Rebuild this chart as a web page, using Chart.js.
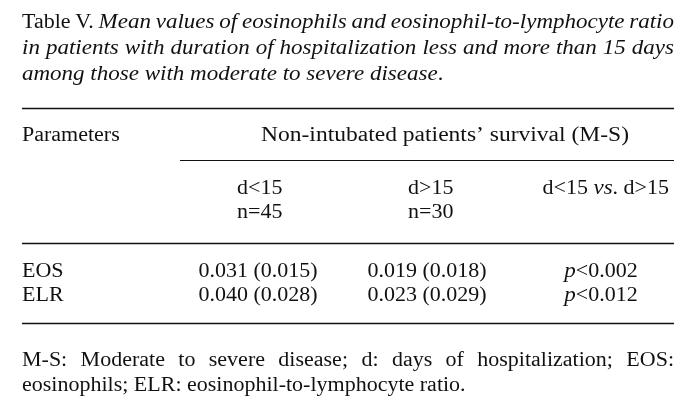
<!DOCTYPE html>
<html>
<head>
<meta charset="utf-8">
<script src="https://cdn.jsdelivr.net/npm/chart.js@4.4.1/dist/chart.umd.min.js"></script>
<style>
  html, body { margin: 0; padding: 0; background: #fff; }
  canvas { display: block; }
</style>
</head>
<body>
<canvas id="table-v" width="696" height="409"></canvas>
<script>
// table data
const parameters = ['EOS', 'ELR'];
const groupLabels = ['d<15', 'd>15'];
const groupSizes = [45, 30];
const meanShort = [0.031, 0.040];
const sdShort = [0.015, 0.028];
const meanLong = [0.019, 0.023];
const sdLong = [0.018, 0.029];
const pValues = ['0.002', '0.012'];

const titleLines = [
  [['Table V. ', false], ['Mean values of eosinophils and eosinophil-to-lymphocyte ratio', true]],
  [['in patients with duration of hospitalization less and more than 15 days', true]],
  [['among those with moderate to severe disease', true], ['.', false]]
];
const footLines = [
  [['M-S: Moderate to severe disease; d: days of hospitalization; EOS:', false]],
  [['eosinophils; ELR: eosinophil-to-lymphocyte ratio.', false]]
];

// layout (pixels on the hidden linear scales)
const FONT = '"Liberation Serif", "Times New Roman", serif';
const SIZE = 20;
const STRETCH = 1.1;
const STRETCH_IT = 1.15;
const LEFT = 22, RIGHT = 674;

function font(italic) {
  return (italic ? 'italic ' : '') + SIZE + 'px ' + FONT;
}

function runWidth(ctx, runs, k) {
  let w = 0;
  runs.forEach(([t, it]) => { ctx.font = font(it); w += ctx.measureText(t).width * (it ? STRETCH_IT : STRETCH) * (k || 1); });
  return w;
}

function drawRuns(ctx, runs, x, y, align, fitWidth) {
  let k = 1;
  if (fitWidth) k = fitWidth / runWidth(ctx, runs);
  const w = runWidth(ctx, runs, k);
  let cx = align === 'center' ? x - w / 2 : align === 'right' ? x - w : x;
  runs.forEach(([t, it]) => {
    const s = (it ? STRETCH_IT : STRETCH) * k;
    ctx.font = font(it);
    ctx.save();
    ctx.translate(cx, y);
    ctx.scale(s, 1);
    ctx.fillText(t, 0, 0);
    ctx.restore();
    cx += ctx.measureText(t).width * s;
  });
}

// justified line: split runs into words and spread the slack
function drawJustified(ctx, runs, x0, x1, y) {
  const words = [];
  let joinNext = false;
  runs.forEach(([t, it]) => {
    const parts = t.split(' ');
    parts.forEach((w, i) => {
      if (w !== '') {
        if (i === 0 && joinNext && words.length) words[words.length - 1].push([w, it]);
        else words.push([[w, it]]);
      }
    });
    joinNext = !t.endsWith(' ');
  });
  const widths = words.map(w => runWidth(ctx, w));
  const total = widths.reduce((a, b) => a + b, 0);
  const gap = (x1 - x0 - total) / (words.length - 1);
  let cx = x0;
  words.forEach((w, i) => { drawRuns(ctx, w, cx, y, 'left'); cx += widths[i] + gap; });
}

function fmt(v) { return v.toFixed(3); }

const tablePlugin = {
  id: 'tableText',
  afterDraw(chart) {
    const ctx = chart.ctx;
    const xs = chart.scales.x, ys = chart.scales.y;
    const px = v => xs.getPixelForValue(v);
    const py = v => ys.getPixelForValue(v);
    ctx.save();
    ctx.fillStyle = '#111';
    ctx.strokeStyle = '#111';
    ctx.textBaseline = 'alphabetic';

    // caption
    drawJustified(ctx, titleLines[0], px(LEFT), px(RIGHT), py(28));
    drawJustified(ctx, titleLines[1], px(LEFT), px(RIGHT), py(54));
    drawRuns(ctx, titleLines[2], px(LEFT), py(80), 'left');

    // rules
    const rule = (x0, x1, y, w) => {
      ctx.lineWidth = w;
      ctx.beginPath();
      ctx.moveTo(px(x0), py(y));
      ctx.lineTo(px(x1), py(y));
      ctx.stroke();
    };
    rule(LEFT, RIGHT, 108.5, 1.6);
    rule(180, RIGHT, 160.5, 1.2);
    rule(LEFT, RIGHT, 243.5, 1.6);
    rule(LEFT, RIGHT, 323.5, 1.6);

    // header
    drawRuns(ctx, [['Parameters', false]], px(LEFT), py(141), 'left');
    drawRuns(ctx, [['Non-intubated patients\u2019 survival (M-S)', false]], px(445), py(141), 'center', 368);
    const groupX = [237, 408];
    groupLabels.forEach((g, i) => {
      drawRuns(ctx, [[g, false]], px(groupX[i]), py(194), 'left');
      drawRuns(ctx, [['n=' + groupSizes[i], false]], px(groupX[i]), py(218), 'left');
    });
    drawRuns(ctx, [[groupLabels[0] + ' ', false], ['vs', true], ['. ' + groupLabels[1], false]], px(669), py(194), 'right');

    // body rows
    const colX = [LEFT, 258, 427, 601];
    parameters.forEach((p, i) => {
      const y = py(277 + i * 24);
      drawRuns(ctx, [[p, false]], px(colX[0]), y, 'left');
      drawRuns(ctx, [[fmt(meanShort[i]) + ' (' + fmt(sdShort[i]) + ')', false]], px(colX[1]), y, 'center');
      drawRuns(ctx, [[fmt(meanLong[i]) + ' (' + fmt(sdLong[i]) + ')', false]], px(colX[2]), y, 'center');
      drawRuns(ctx, [['p', true], ['<' + pValues[i], false]], px(colX[3]), y, 'center');
    });

    // footnote
    drawJustified(ctx, footLines[0], px(LEFT), px(RIGHT), py(366));
    drawRuns(ctx, footLines[1], px(LEFT), py(391), 'left');
    ctx.restore();
  }
};

new Chart(document.getElementById('table-v'), {
  type: 'scatter',
  data: { datasets: [] },
  options: {
    responsive: false,
    animation: false,
    devicePixelRatio: 1,
    layout: { padding: 0 },
    scales: {
      x: { type: 'linear', min: 0, max: 696, display: false },
      y: { type: 'linear', min: 0, max: 409, reverse: true, display: false }
    },
    plugins: { legend: { display: false }, tooltip: { enabled: false } }
  },
  plugins: [tablePlugin, {
    id: 'bg',
    beforeDraw(chart) {
      const c = chart.ctx;
      c.save(); c.fillStyle = '#fff'; c.fillRect(0, 0, chart.width, chart.height); c.restore();
    }
  }]
});
</script>
</body>
</html>
